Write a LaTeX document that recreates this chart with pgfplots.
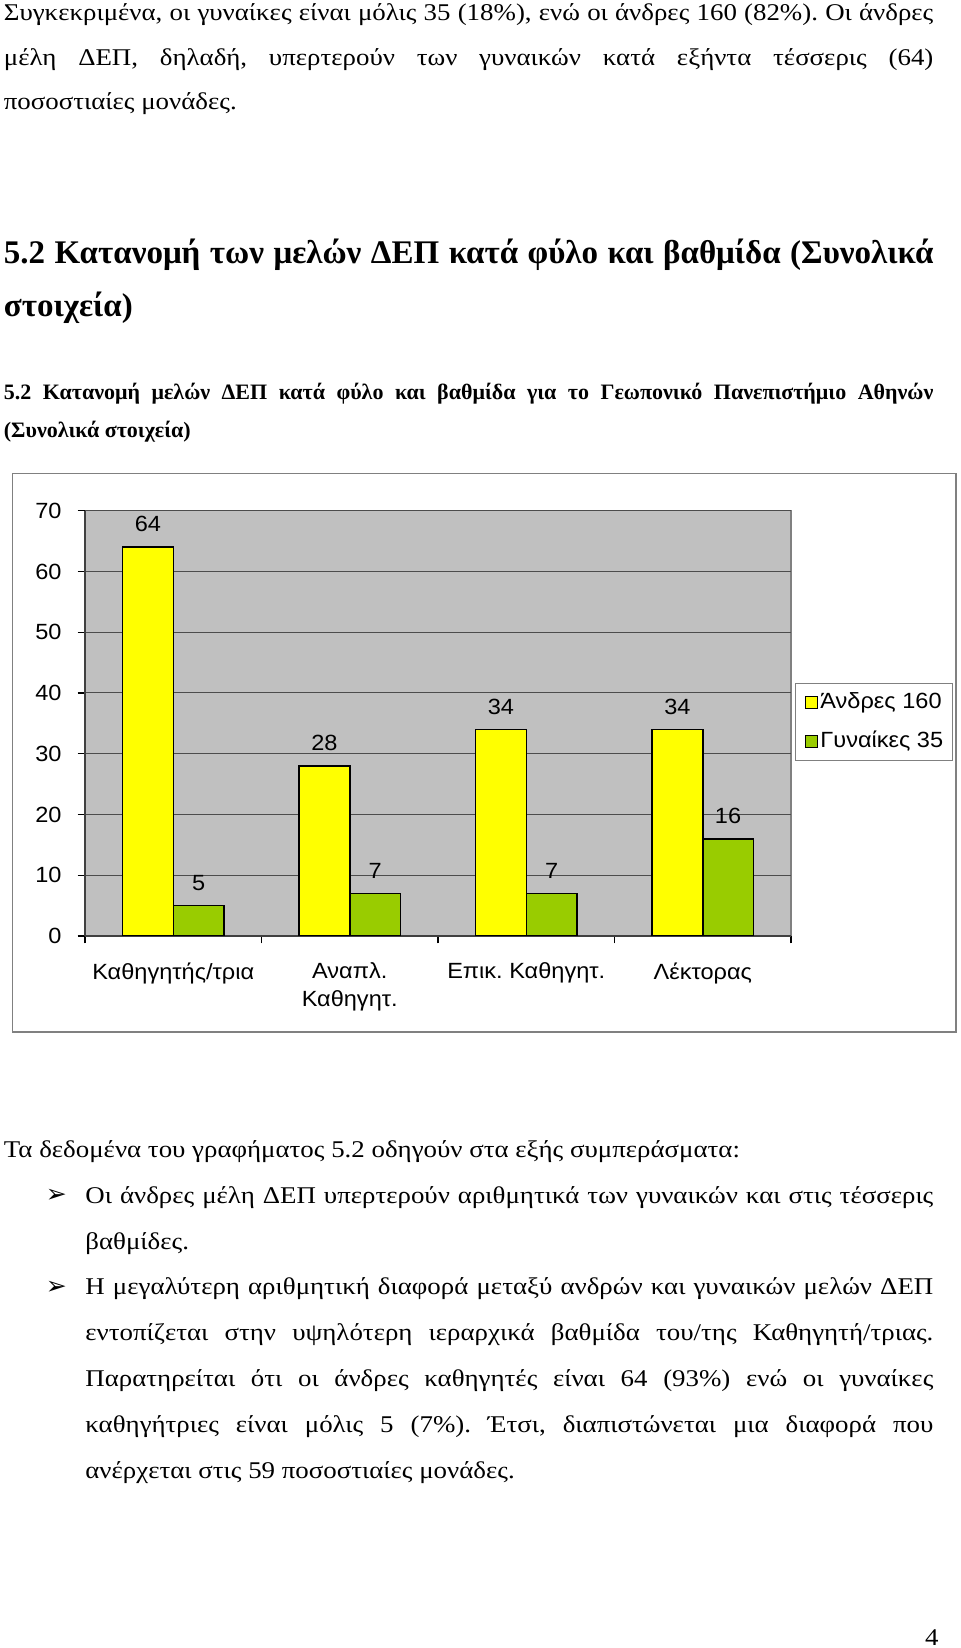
\documentclass[border=0pt]{standalone}
\usepackage{fontspec}
\setmainfont[FakeStretch=1.12]{Liberation Serif}
\newfontfamily\headfont{Liberation Serif}
\newfontfamily\arial[FakeStretch=1.07]{Liberation Sans}
\newfontfamily\dejavu{DejaVu Sans}
\usepackage{pgfplots}
\pgfplotsset{compat=1.18}

\definecolor{barY}{HTML}{FFFF00}
\definecolor{barG}{HTML}{99CC00}
\definecolor{plotbg}{HTML}{C0C0C0}
\definecolor{framegray}{HTML}{808080}

\newcommand\body{\fontsize{12pt}{14pt}\selectfont}
\newcommand\chartfont{\arial\fontsize{11pt}{13.7pt}\selectfont}
\newcommand\jline[1]{\makebox[464.75pt][s]{#1}}
\newcommand\bline[1]{\makebox[424pt][s]{#1}}
\newcommand\arrowbullet{{\dejavu\fontsize{12.5pt}{14pt}\selectfont ➢}}

\begin{document}
\frenchspacing
\begin{tikzpicture}
\path[use as bounding box] (0,0) rectangle (480pt,824pt);

% page text, in pixel units from the top left corner
\begin{scope}[x=0.5pt,y=-0.5pt,shift={(0pt,824pt)},
  every node/.style={inner sep=0pt,anchor=base west}]
  \node[font=\body] at (3.5,20.7) {\jline{Συγκεκριμένα, οι γυναίκες είναι μόλις 35 (18\%), ενώ οι άνδρες 160 (82\%). Οι άνδρες}};
  \node[font=\body] at (3.5,65.2) {\jline{μέλη ΔΕΠ, δηλαδή, υπερτερούν των γυναικών κατά εξήντα τέσσερις (64)}};
  \node[font=\body] at (3.5,109.7) {ποσοστιαίες μονάδες.};

  \node[font=\headfont\bfseries\fontsize{16.5pt}{19pt}\selectfont] at (3.5,263.3) {\jline{5.2 Κατανομή των μελών ΔΕΠ κατά φύλο και βαθμίδα (Συνολικά}};
  \node[font=\headfont\bfseries\fontsize{16.5pt}{19pt}\selectfont] at (3.5,316.7) {στοιχεία)};

  \node[font=\headfont\bfseries\fontsize{11pt}{13pt}\selectfont] at (3.5,400) {\jline{5.2 Κατανομή μελών ΔΕΠ κατά φύλο και βαθμίδα για το Γεωπονικό Πανεπιστήμιο Αθηνών}};
  \node[font=\headfont\bfseries\fontsize{11pt}{13pt}\selectfont] at (3.5,437.5) {(Συνολικά στοιχεία)};

  \draw[framegray,line width=0.75pt,fill=white] (12.7,473.3) rectangle (956,1032);

  \node[font=\body] at (3.5,1157.5) {Τα δεδομένα του γραφήματος 5.2 οδηγούν στα εξής συμπεράσματα:};
  \node at (45.5,1202.5) {\arrowbullet};
  \node[font=\body] at (85,1203.3) {\bline{Οι άνδρες μέλη ΔΕΠ υπερτερούν αριθμητικά των γυναικών και στις τέσσερις}};
  \node[font=\body] at (85,1249.2) {βαθμίδες.};
  \node at (45.5,1294.2) {\arrowbullet};
  \node[font=\body] at (85,1295) {\bline{Η μεγαλύτερη αριθμητική διαφορά μεταξύ ανδρών και γυναικών μελών ΔΕΠ}};
  \node[font=\body] at (85,1340.9) {\bline{εντοπίζεται στην υψηλότερη ιεραρχικά βαθμίδα του/της Καθηγητή/τριας.}};
  \node[font=\body] at (85,1386.7) {\bline{Παρατηρείται ότι οι άνδρες καθηγητές είναι 64 (93\%) ενώ οι γυναίκες}};
  \node[font=\body] at (85,1432.6) {\bline{καθηγήτριες είναι μόλις 5 (7\%). Έτσι, διαπιστώνεται μια διαφορά που}};
  \node[font=\body] at (85,1478.4) {ανέρχεται στις 59 ποσοστιαίες μονάδες.};

  \node[font=\body,anchor=base east] at (939,1645) {4};
\end{scope}

\begin{axis}[
  at={(42.5pt,356pt)}, anchor=south west,
  scale only axis, width=353pt, height=212.65pt,
  ybar, bar width=0.287,
  xmin=-0.5, xmax=3.5, ymin=0, ymax=70,
  ytick={0,10,...,70},
  xtick={-0.5,0.5,1.5,2.5,3.5},
  x tick label as interval,
  xticklabels={Καθηγητής/τρια,{Αναπλ.\\Καθηγητ.},Επικ. Καθηγητ.,Λέκτορας},
  axis x line*=bottom, axis y line*=left,
  axis line style={-, black!75, line width=0.6pt},
  axis background/.style={fill=plotbg, draw=framegray, line width=0.6pt},
  ymajorgrids, grid style={black!70, line width=0.5pt},
  tick align=outside, major tick length=3.75pt,
  tick style={black, line width=0.6pt},
  /pgf/number format/assume math mode=true,
  tick label style={font=\chartfont},
  yticklabel style={anchor=east, inner sep=0pt, xshift=-7.8pt},
  xticklabel style={anchor=north, inner sep=0pt, align=center, yshift=-9.4pt},
  nodes near coords,
  every node near coord/.append style={font=\chartfont, anchor=base, inner sep=0pt, yshift=7.7pt},
  legend style={at={(1,0.503)}, anchor=west, xshift=2pt, draw=framegray,
    line width=0.6pt, fill=white, inner xsep=4.7pt, inner ysep=4.8pt,
    row sep=9.15pt, column sep=1.2pt, font=\chartfont,
    nodes={inner sep=0pt, text height=8pt, text depth=2pt}, cells={anchor=west}},
  legend image code/.code={\draw[#1, line width=0.5pt] (0pt,-3pt) rectangle (6pt,3pt);},
]
\addplot[fill=barY, draw=black, line width=0.75pt, bar shift=-0.1435]
  coordinates {(0,64) (1,28) (2,34) (3,34)};
\addlegendentry{Άνδρες 160}
\addplot[fill=barG, draw=black, line width=0.75pt, bar shift=0.1435]
  coordinates {(0,5) (1,7) (2,7) (3,16)};
\addlegendentry{Γυναίκες 35}
\end{axis}
\end{tikzpicture}
\end{document}
